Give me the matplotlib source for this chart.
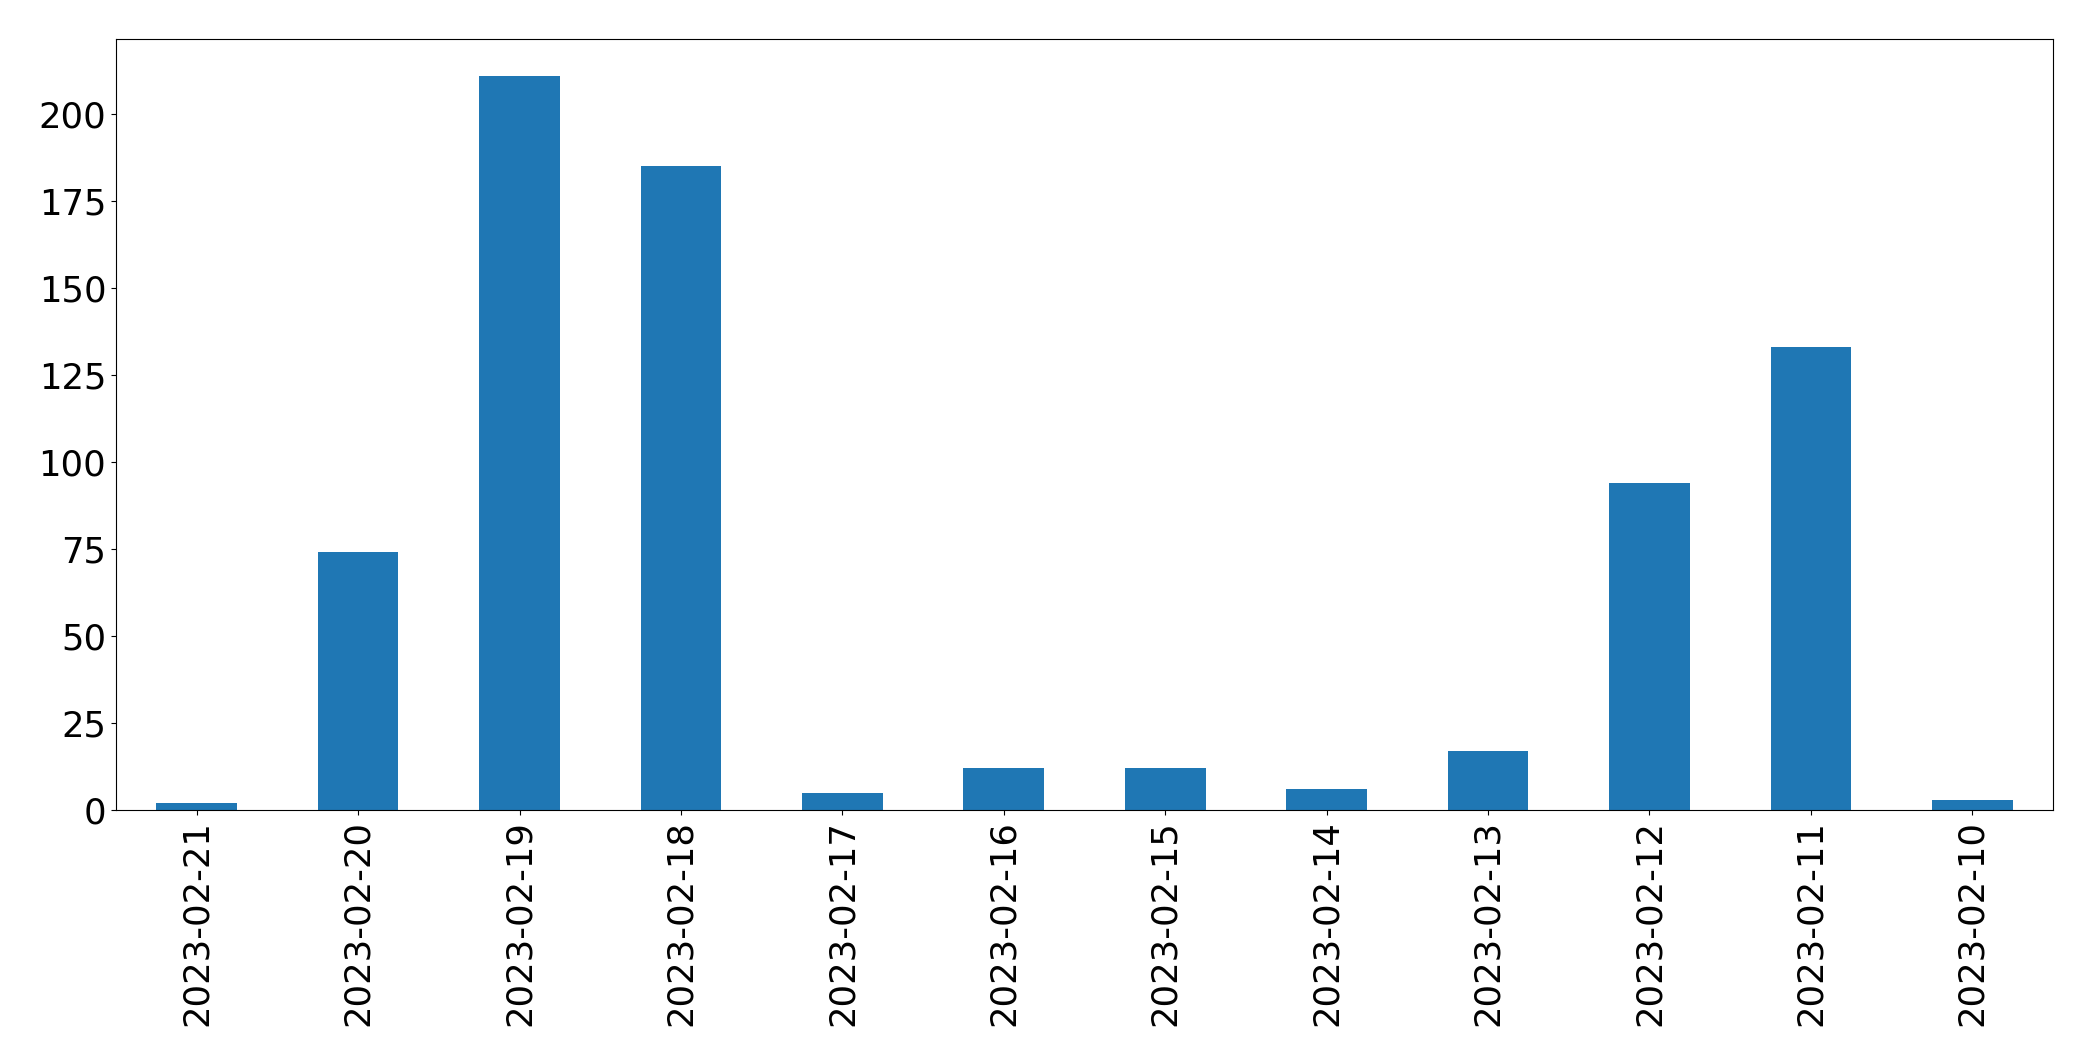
import numpy as np
import pandas as pd
import matplotlib.pyplot as plt

# Beitraege pro Tag (absteigend sortiert nach Datum)
dates = ["2023-02-21", "2023-02-20", "2023-02-19", "2023-02-18", "2023-02-17", "2023-02-16",
         "2023-02-15", "2023-02-14", "2023-02-13", "2023-02-12", "2023-02-11", "2023-02-10"]
counts = [2, 74, 211, 185, 5, 12, 12, 6, 17, 94, 133, 3]

posts_per_day = pd.Series(counts, index=dates)

fig = plt.figure(figsize=(20.93, 10.61), dpi=100)
ax = fig.add_axes([116 / 2093, 1 - 810 / 1061, (2053 - 116) / 2093, (810 - 39) / 1061])
posts_per_day.plot.bar(ax=ax, color="#1f77b4", width=0.5)
ax.tick_params(axis="both", labelsize=25.5)
ax.tick_params(axis="x", rotation=90)
plt.savefig("out.png", dpi=100)
